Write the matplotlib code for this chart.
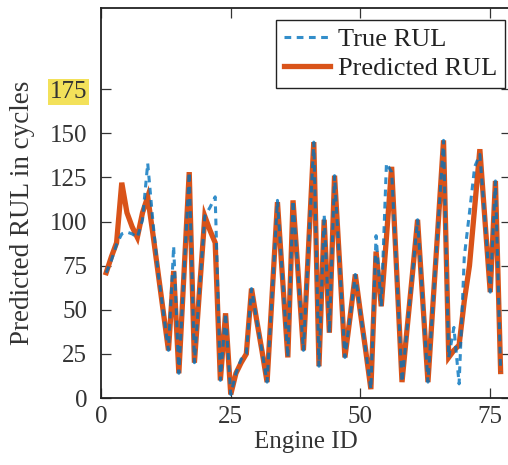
import matplotlib

matplotlib.use("Agg")
import matplotlib.pyplot as plt

# Engine IDs and RUL values
engine_id = list(range(1, 78))
true_rul = [71, 78, 87, 93, 94, 93, 91, 101, 133, 100,
            71, 49, 27, 86, 14, 71, 128, 20, 62, 103,
            108, 114, 10, 48, 2, 14, 22, 25, 62, 44,
            27, 9, 60, 112, 67, 23, 112, 70, 27, 86,
            145, 18, 104, 37, 126, 75, 23, 46, 70, 48,
            27, 5, 92, 52, 133, 128, 70, 9, 40, 70,
            101, 55, 9, 55, 100, 146, 23, 40, 8, 80,
            105, 131, 138, 100, 60, 123, 15]
pred_rul = [71, 80, 88, 122, 105, 97, 91, 105, 114, 93,
            71, 49, 27, 72, 14, 71, 128, 20, 62, 103,
            95, 88, 10, 48, 2, 14, 20, 25, 62, 44,
            27, 9, 60, 111, 67, 23, 112, 70, 27, 86,
            145, 18, 101, 37, 126, 75, 23, 46, 70, 48,
            27, 5, 83, 52, 91, 131, 70, 9, 40, 70,
            101, 55, 9, 55, 100, 146, 23, 27, 30, 55,
            75, 108, 141, 100, 60, 123, 15]

x_ticks = [0, 25, 50, 75]
y_ticks = [0, 25, 50, 75, 100, 125, 150, 175]

plt.rcParams["font.family"] = ["Liberation Serif", "DejaVu Serif"]
plt.rcParams["font.size"] = 18

fig = plt.figure(figsize=(5.08, 4.65), dpi=100)
ax = fig.add_axes([101 / 508, 67 / 465, 410 / 508, 390 / 465])

(h_pred,) = ax.plot(engine_id, pred_rul, color="#D95319", lw=3.8,
                    solid_joinstyle="miter", zorder=2, label="Predicted RUL")
(h_true,) = ax.plot(engine_id, true_rul, color="#0072BD", lw=2.2,
                    dashes=(2.2, 1.8), alpha=0.8, zorder=3, label="True RUL")

ax.set_xlim(0, 79)
ax.set_ylim(0, 221)
ax.set_xticks(x_ticks)
ax.set_yticks(y_ticks)
ax.tick_params(direction="in", length=7, width=0.9, top=True, right=True,
               colors="#333333", labelcolor="#333333")
ax.tick_params(axis="y", pad=10)
ax.tick_params(axis="x", pad=6)
for s in ax.spines.values():
    s.set_linewidth(1.3)
    s.set_color("#222222")

ax.set_xlabel("Engine ID", color="#333333", labelpad=2)
ax.set_ylabel("Predicted RUL in cycles", color="#333333", fontsize=19.5)
ax.yaxis.set_label_coords(-0.161, 0.474)

# the reference has the 175 label marked with a highlighter
for lab in ax.get_yticklabels():
    if lab.get_text() == "175":
        lab.set_bbox(dict(facecolor="#f3e15a", edgecolor="none", pad=1.5))

leg = ax.legend([h_true, h_pred], ["True RUL", "Predicted RUL"],
                loc="upper right", bbox_to_anchor=(0.985, 0.969),
                borderaxespad=0, fancybox=False, framealpha=1,
                edgecolor="#222222", handlelength=1.75, handletextpad=0.3,
                labelspacing=0.2, borderpad=0.3, fontsize=19)
leg.get_frame().set_linewidth(1.0)
for t in leg.get_texts():
    t.set_color("#222222")

fig.savefig("out.png", dpi=100)
